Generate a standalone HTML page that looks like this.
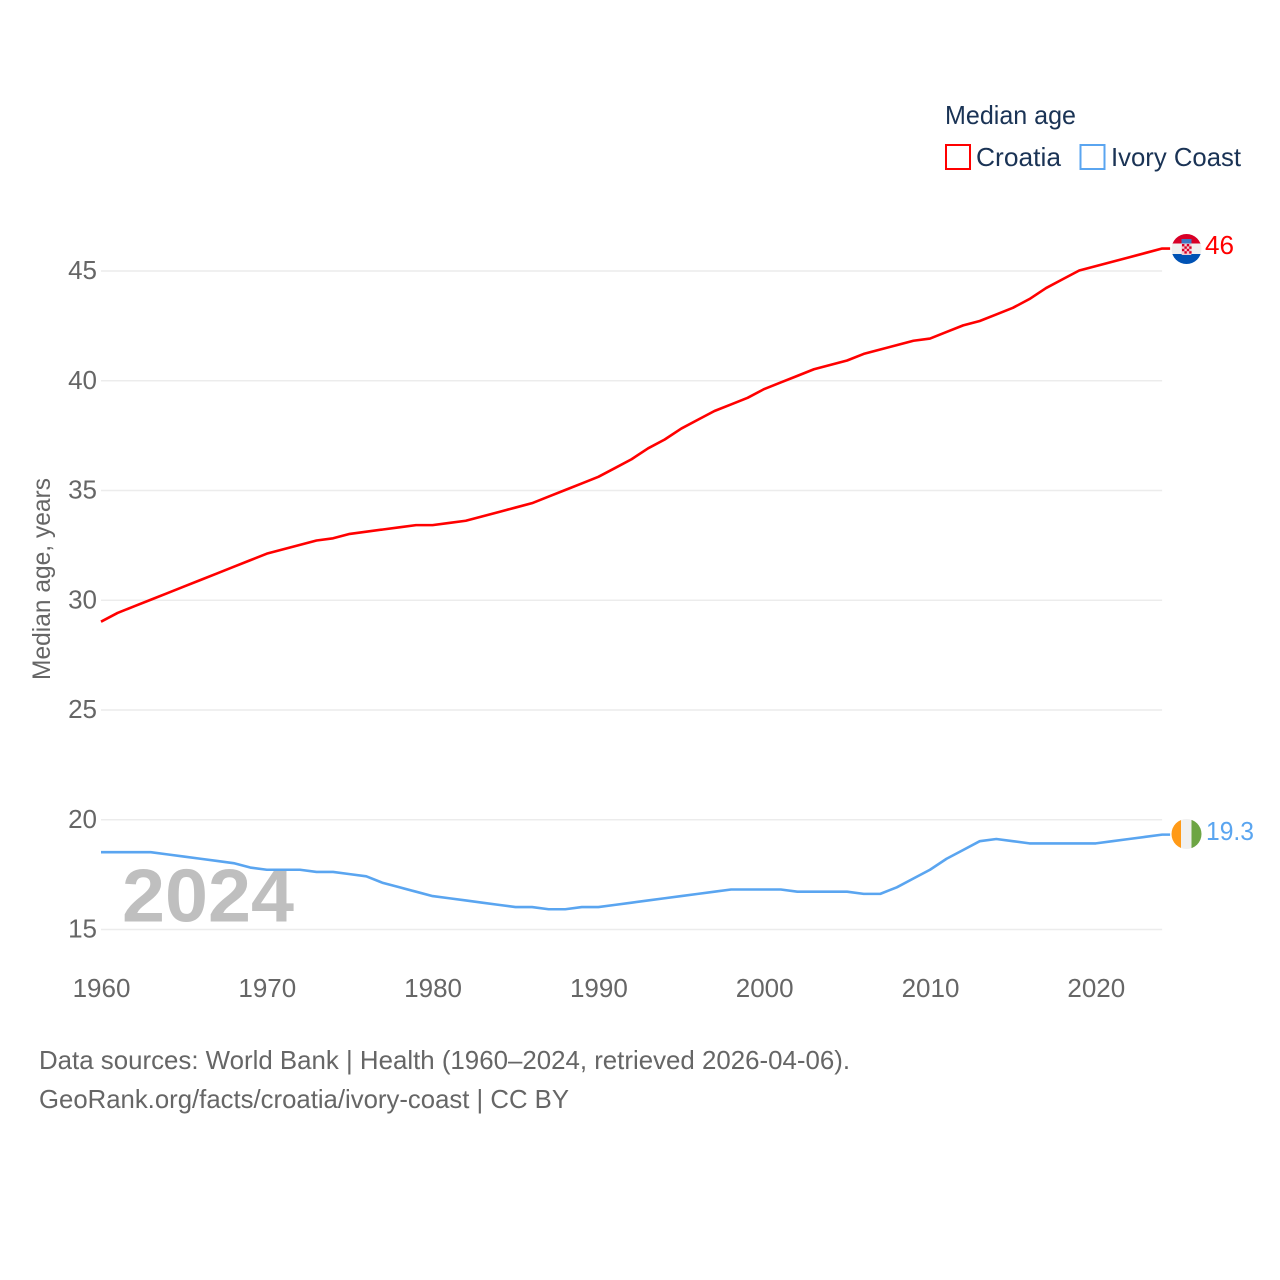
<!DOCTYPE html>
<html lang="en">
<head>
<meta charset="utf-8">
<title>Median age: Croatia and Ivory Coast</title>
<style>
html,body{margin:0;padding:0;background:#fff;}
svg{display:block;font-family:"Liberation Sans",Arial,sans-serif;}
</style>
</head>
<body>
<svg id="chart" width="1280" height="1280" viewBox="0 0 1280 1280" xmlns="http://www.w3.org/2000/svg">
  <defs>
    <clipPath id="flag-clip-hr"><circle cx="1186.5" cy="249" r="15"/></clipPath>
    <clipPath id="flag-clip-ci"><circle cx="1186.5" cy="834" r="15"/></clipPath>
  </defs>
  <rect width="1280" height="1280" fill="#fff"/>
  <g id="grid"></g>
  <g id="y-ticks"></g>
  <g id="x-ticks"></g>
  <text x="122" y="921.5" font-size="75" font-weight="700" fill="#bfbfbf" textLength="172" lengthAdjust="spacingAndGlyphs">2024</text>
  <g id="lines"></g>
  <g clip-path="url(#flag-clip-hr)">
    <rect x="1171" y="233" width="31" height="11" fill="#d80027"/>
    <rect x="1171" y="243.5" width="31" height="11" fill="#f0f0f0"/>
    <rect x="1171" y="254" width="31" height="11" fill="#0052b4"/>
    <rect x="1181.5" y="239" width="10" height="4.5" fill="#3b78c4"/>
    <rect x="1181.5" y="243.5" width="10" height="11.5" fill="#f3c9d0" rx="1"/>
    <rect x="1182" y="244" width="2.4" height="2.4" fill="#d80027"/>
    <rect x="1186.8" y="244" width="2.4" height="2.4" fill="#d80027"/>
    <rect x="1184.4" y="246.4" width="2.4" height="2.4" fill="#d80027"/>
    <rect x="1189.2" y="246.4" width="2.4" height="2.4" fill="#d80027"/>
    <rect x="1182" y="248.8" width="2.4" height="2.4" fill="#d80027"/>
    <rect x="1186.8" y="248.8" width="2.4" height="2.4" fill="#d80027"/>
    <rect x="1184.4" y="251.2" width="2.4" height="2.4" fill="#d80027"/>
    <rect x="1189.2" y="251.2" width="2.4" height="2.4" fill="#d80027"/>
  </g>
  <g clip-path="url(#flag-clip-ci)">
    <rect x="1171" y="818" width="10.5" height="32" fill="#ff9a17"/>
    <rect x="1181" y="818" width="11" height="32" fill="#f0f0f0"/>
    <rect x="1191.5" y="818" width="10.5" height="32" fill="#6da544"/>
  </g>
  <text x="1205" y="254" font-size="26" fill="#ff0000" textLength="29" lengthAdjust="spacingAndGlyphs">46</text>
  <text x="1206" y="840" font-size="26" fill="#5aa5f0" textLength="48" lengthAdjust="spacingAndGlyphs">19.3</text>
  <text transform="translate(50,680) rotate(-90)" font-size="25" fill="#666666" textLength="202" lengthAdjust="spacingAndGlyphs">Median age, years</text>
  <g>
    <text x="945" y="124" font-size="26" fill="#1a3355" textLength="131" lengthAdjust="spacingAndGlyphs">Median age</text>
    <g>
      <rect x="946" y="145" width="24" height="24" fill="#fff" stroke="#ff0000" stroke-width="2"/>
      <text x="976" y="166" font-size="26" fill="#1a3355" textLength="85" lengthAdjust="spacingAndGlyphs">Croatia</text>
    </g>
    <g>
      <rect x="1080.5" y="145" width="24" height="24" fill="#fff" stroke="#5aa5f0" stroke-width="2"/>
      <text x="1111" y="166" font-size="26" fill="#1a3355" textLength="130" lengthAdjust="spacingAndGlyphs">Ivory Coast</text>
    </g>
  </g>
  <text x="39" y="1069" font-size="26" fill="#666666" textLength="811" lengthAdjust="spacingAndGlyphs">Data sources: World Bank | Health (1960–2024, retrieved 2026-04-06).</text>
  <text x="39" y="1108" font-size="26" fill="#666666" textLength="530" lengthAdjust="spacingAndGlyphs">GeoRank.org/facts/croatia/ivory-coast | CC BY</text>
</svg>
<script>
const years = [1960,1961,1962,1963,1964,1965,1966,1967,1968,1969,1970,1971,1972,1973,1974,1975,1976,1977,1978,1979,1980,1981,1982,1983,1984,1985,1986,1987,1988,1989,1990,1991,1992,1993,1994,1995,1996,1997,1998,1999,2000,2001,2002,2003,2004,2005,2006,2007,2008,2009,2010,2011,2012,2013,2014,2015,2016,2017,2018,2019,2020,2021,2022,2023,2024];
const croatiaValues = [29.0,29.4,29.7,30.0,30.3,30.6,30.9,31.2,31.5,31.8,32.1,32.3,32.5,32.7,32.8,33.0,33.1,33.2,33.3,33.4,33.4,33.5,33.6,33.8,34.0,34.2,34.4,34.7,35.0,35.3,35.6,36.0,36.4,36.9,37.3,37.8,38.2,38.6,38.9,39.2,39.6,39.9,40.2,40.5,40.7,40.9,41.2,41.4,41.6,41.8,41.9,42.2,42.5,42.7,43.0,43.3,43.7,44.2,44.6,45.0,45.2,45.4,45.6,45.8,46.0];
const ivoryCoastValues = [18.5,18.5,18.5,18.5,18.4,18.3,18.2,18.1,18.0,17.8,17.7,17.7,17.7,17.6,17.6,17.5,17.4,17.1,16.9,16.7,16.5,16.4,16.3,16.2,16.1,16.0,16.0,15.9,15.9,16.0,16.0,16.1,16.2,16.3,16.4,16.5,16.6,16.7,16.8,16.8,16.8,16.8,16.7,16.7,16.7,16.7,16.6,16.6,16.9,17.3,17.7,18.2,18.6,19.0,19.1,19.0,18.9,18.9,18.9,18.9,18.9,19.0,19.1,19.2,19.3];
const yTickValues = [15,20,25,30,35,40,45];
const xTickValues = [1960,1970,1980,1990,2000,2010,2020];

const SVG_NS = 'http://www.w3.org/2000/svg';
function xScale(year) { return 101 + (year - 1960) * 16.58; }
function yScale(value) { return 929.5 - (value - 15) * 21.95; }

const gridLayer = document.getElementById('grid');
const yTickLayer = document.getElementById('y-ticks');
const xTickLayer = document.getElementById('x-ticks');
const lineLayer = document.getElementById('lines');

yTickValues.forEach(function (tick) {
  const gridLine = document.createElementNS(SVG_NS, 'line');
  
  
  gridLine.setAttribute('x1', xScale(1960));
  gridLine.setAttribute('x2', xScale(2024));
  gridLine.setAttribute('y1', yScale(tick));
  gridLine.setAttribute('y2', yScale(tick));
  gridLine.setAttribute('stroke', '#ececec');
  gridLine.setAttribute('stroke-width', '1.6');
  gridLayer.appendChild(gridLine);

  const label = document.createElementNS(SVG_NS, 'text');
  
  
  label.setAttribute('x', 97);
  label.setAttribute('y', yScale(tick) + 8);
  label.setAttribute('text-anchor', 'end');
  label.setAttribute('font-size', '26');
  label.setAttribute('fill', '#666666');
  label.textContent = tick;
  yTickLayer.appendChild(label);
});

xTickValues.forEach(function (tick) {
  const label = document.createElementNS(SVG_NS, 'text');
  
  
  label.setAttribute('x', xScale(tick) + 0.5);
  label.setAttribute('y', 997);
  label.setAttribute('text-anchor', 'middle');
  label.setAttribute('font-size', '26');
  label.setAttribute('fill', '#666666');
  label.textContent = tick;
  xTickLayer.appendChild(label);
});

function drawSeries(values, color, seriesName) {
  const points = values.map(function (value, i) {
    return xScale(years[i]).toFixed(2) + ',' + (yScale(value) - 0.5).toFixed(2);
  });
  const lastY = (yScale(values[values.length - 1]) - 0.5).toFixed(2);
  points.push((xScale(years[years.length - 1]) + 8).toFixed(2) + ',' + lastY);
  const path = document.createElementNS(SVG_NS, 'polyline');
  
  
  path.setAttribute('points', points.join(' '));
  path.setAttribute('fill', 'none');
  path.setAttribute('stroke', color);
  path.setAttribute('stroke-width', '2.6');
  path.setAttribute('stroke-linejoin', 'round');
  lineLayer.appendChild(path);
}
drawSeries(croatiaValues, '#ff0000', 'croatia-line');
drawSeries(ivoryCoastValues, '#5aa5f0', 'ivory-coast-line');
</script>
</body>
</html>
